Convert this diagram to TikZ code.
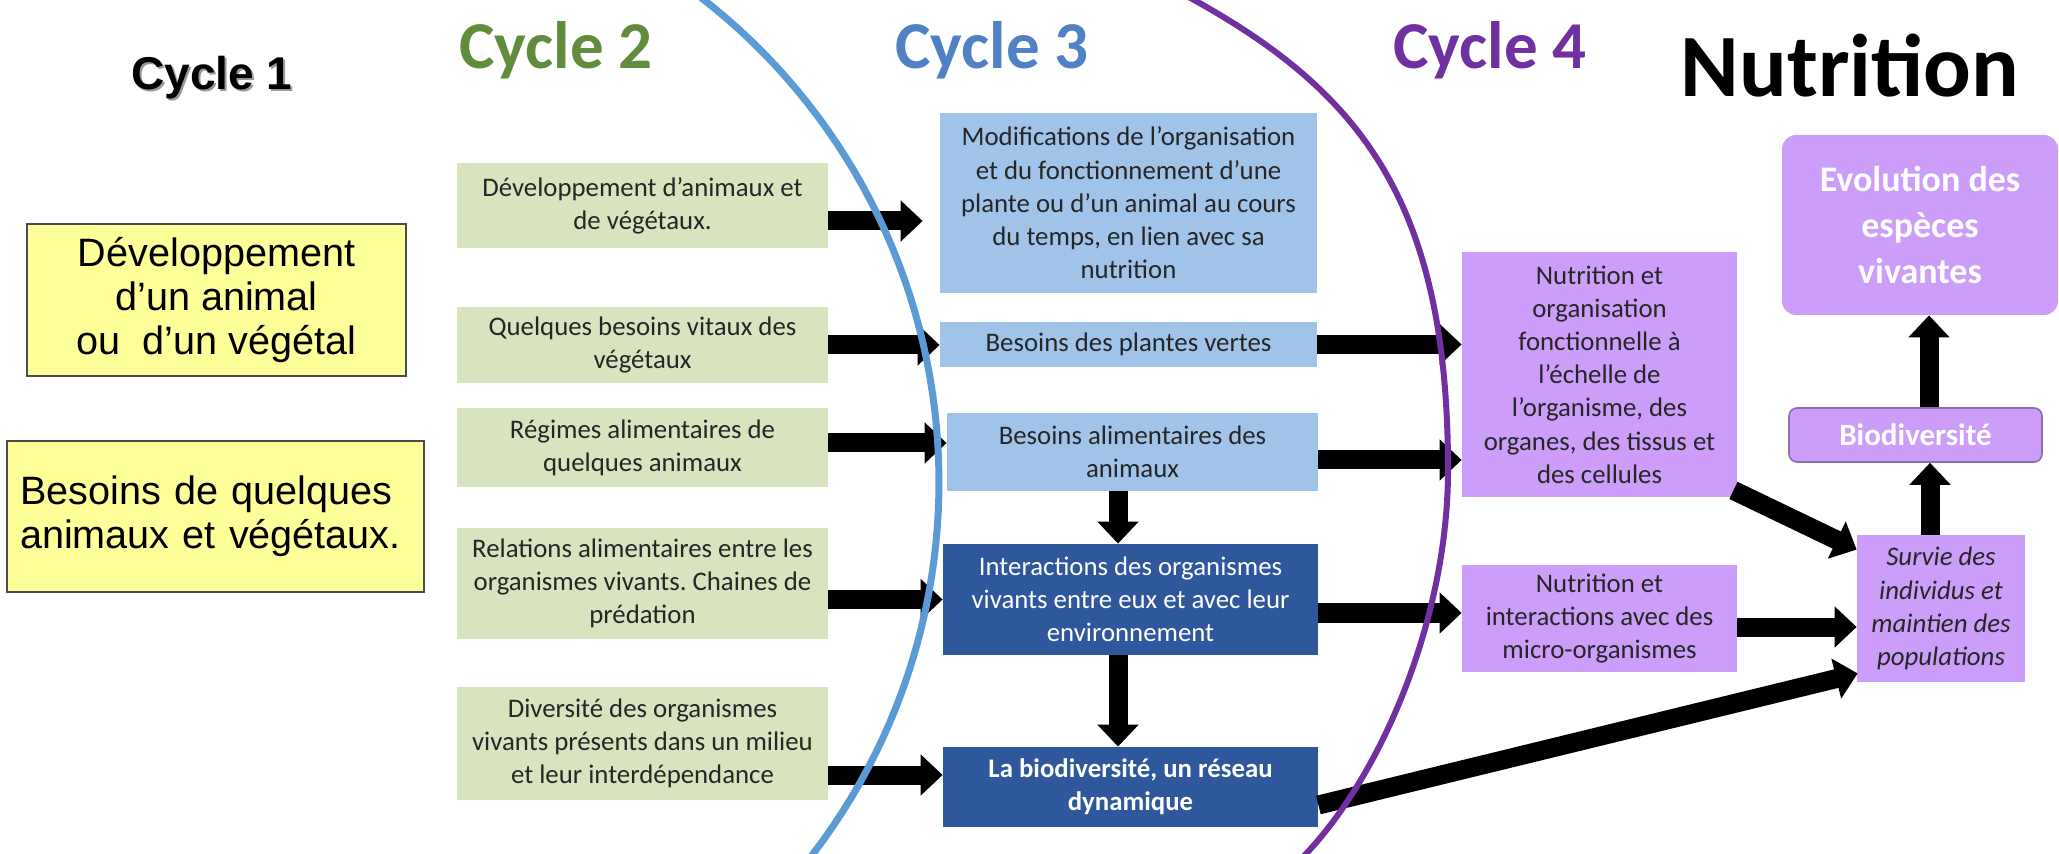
\documentclass[tikz,border=0pt]{standalone}
\usepackage{fontspec}
\setmainfont{Carlito}
\newfontfamily\arialfont{Liberation Sans}
\usetikzlibrary{arrows.meta,calc}
\frenchspacing
\definecolor{vertclair}{RGB}{215,228,190}
\definecolor{bleuclair}{RGB}{160,196,232}
\definecolor{bleufonce}{RGB}{46,88,155}
\definecolor{rose}{RGB}{205,157,250}
\definecolor{jauneclair}{RGB}{255,255,153}
\definecolor{cvert}{RGB}{96,140,60}
\definecolor{cbleu}{RGB}{79,129,196}
\definecolor{cviolet}{RGB}{112,48,160}
\definecolor{arcbleu}{RGB}{91,155,213}
\definecolor{violetbord}{RGB}{140,110,175}

\begin{document}
\begin{tikzpicture}[x=0.5pt,y=-0.5pt,
  boite/.style={inner sep=0pt, align=center, text=black!85, font=\fontsize{13.4}{16.6}\selectfont},
  vertbox/.style={boite, fill=vertclair, minimum width=185.5pt},
  bleubox/.style={boite, fill=bleuclair},
  foncebox/.style={boite, fill=bleufonce, text=white},
  rosebox/.style={boite, fill=rose},
  jaune/.style={draw=black!70, line width=0.8pt, fill=jauneclair, inner sep=0pt, align=center, font=\arialfont\fontsize{19.8}{22}\selectfont},
  titre/.style={anchor=base, font=\bfseries\fontsize{33.5}{40}\selectfont},
  fleche/.style={line width=9.5pt, -{Triangle[width=20pt,length=11pt]}},
  courbe/.style={line width=3.5pt}]
\useasboundingbox[fill=white] (0,0) rectangle (2059,854);

\node[titre, text=black!40, font=\arialfont\bfseries\fontsize{23}{28}\selectfont] (c1ombre) at (214,92) {Cycle 1};
\node[titre, font=\arialfont\bfseries\fontsize{23}{28}\selectfont] (c1) at (212,90) {Cycle 1};
\node[titre, text=cvert] (c2) at (556,69) {Cycle 2};
\node[titre, text=cbleu] (c3) at (992,69) {Cycle 3};
\node[titre, text=cviolet] (c4) at (1490,69) {Cycle 4};
\node[titre, font=\bfseries\fontsize{44.5}{50}\selectfont] (nut) at (1850,97) {Nutrition};

\node[jaune, minimum width=189.5pt, minimum height=76pt] (y1) at (216.5,300) {Développement\\d’un animal\\ou~~d’un végétal};
\node[jaune, minimum height=75.5pt, text width=195.5pt, inner xsep=6.5pt, align=left] (y2) at (215.5,516.5) {Besoins de quelques\\animaux et végétaux.};

\node[vertbox, minimum height=42.5pt] (g1) at (642.5,205.5) {Développement d’animaux et\\de végétaux.};
\node[vertbox, minimum height=38pt] (g2) at (642.5,345) {Quelques besoins vitaux des\\végétaux};
\node[vertbox, minimum height=39.5pt] (g3) at (642.5,447.5) {Régimes alimentaires de\\quelques animaux};
\node[vertbox, minimum height=55.5pt] (g4) at (642.5,583.5) {Relations alimentaires entre les\\organismes vivants. Chaines de\\prédation};
\node[vertbox, minimum height=56.5pt] (g5) at (642.5,743.5) {Diversité des organismes\\vivants présents dans un milieu\\et leur interdépendance};

\node[bleubox, minimum width=188.5pt, minimum height=90pt] (b1) at (1128.5,203) {Modifications de l’organisation\\et du fonctionnement d’une\\plante ou d’un animal au cours\\du temps, en lien avec sa\\nutrition};
\node[bleubox, minimum width=188.5pt, minimum height=22.5pt] (b2) at (1128.5,344.5) {Besoins des plantes vertes};
\node[bleubox, minimum width=185.5pt, minimum height=39pt] (b3) at (1132.5,452) {Besoins alimentaires des\\animaux};
\node[foncebox, minimum width=187.5pt, minimum height=55.5pt] (b4) at (1130.5,599.5) {Interactions des organismes\\vivants entre eux et avec leur\\environnement};
\node[foncebox, minimum width=187.5pt, minimum height=40pt, font=\bfseries\fontsize{13.4}{16.6}\selectfont] (b5) at (1130.5,787) {La biodiversité, un réseau\\dynamique};

\node[rosebox, minimum width=137.5pt, minimum height=122.5pt] (p1) at (1599.5,374.5) {Nutrition et\\organisation\\fonctionnelle à\\l’échelle de\\l’organisme, des\\organes, des tissus et\\des cellules};
\node[rosebox, minimum width=137.5pt, minimum height=53.5pt] (p2) at (1599.5,618.5) {Nutrition et\\interactions avec des\\micro-organismes};
\node[rosebox, minimum width=84pt, minimum height=73.5pt, font=\itshape\fontsize{13.4}{16.6}\selectfont] (surv) at (1941,608.5) {Survie des\\individus et\\maintien des\\populations};
\node[rosebox, draw=violetbord, line width=0.8pt, rounded corners=4pt, text=white, minimum width=126.5pt, minimum height=27pt, font=\bfseries\fontsize{15.5}{18}\selectfont] (bio) at (1915.5,435) {Biodiversité};
\node[rosebox, rounded corners=7pt, text=white, minimum width=138pt, minimum height=90pt, font=\bfseries\fontsize{18}{23}\selectfont] (evo) at (1920,225) {Evolution des\\espèces\\vivantes};

\draw[fleche] ($(g1.east)+(0,15.5)$) -- ($(g1.east -| b1.west)+(-17,15.5)$);
\draw[fleche] (g2.east) -- (g2.east -| b2.west);
\draw[fleche] ($(g3.east)+(0,-4.5)$) -- ($(g3.east -| b3.west)+(0,-4.5)$);
\draw[fleche] ($(g4.east)+(0,16)$) -- ($(g4.east -| b4.west)+(0,16)$);
\draw[fleche] ($(g5.east)+(0,31.5)$) -- ($(g5.east -| b5.west)+(0,31.5)$);
\draw[fleche] ($(b3.south)+(-14.5,0)$) -- ($(b3.south |- b4.north)+(-14.5,0)$);
\draw[fleche] ($(b4.south)+(-12.5,0)$) -- ($(b4.south |- b5.north)+(-12.5,0)$);
\draw[fleche] (b2.east) -- (b2.east -| p1.west);
\draw[fleche] ($(b3.east)+(0,8)$) -- ($(b3.east -| p1.west)+(0,8)$);
\draw[fleche] ($(b4.east)+(0,13.5)$) -- ($(b4.east -| p2.west)+(0,13.5)$);
\draw[fleche] ($(b5.east)+(0,18)$) -- ($(surv.south west)+(1,-9)$);
\draw[fleche] ($(p1.south east)+(-4,-7)$) -- ($(surv.north west)+(0,15)$);
\draw[fleche] ($(p2.east)+(0,8.5)$) -- ($(p2.east -| surv.west)+(0,8.5)$);
\draw[fleche] ($(surv.north)+(-11,0)$) -- ($(surv.north |- bio.south)+(-11,0)$);
\draw[fleche] ($(bio.north)+(13.5,0)$) -- ($(bio.north |- evo.south)+(13.5,0)$);

\draw[courbe, arcbleu] plot[domain=-54:39, samples=60, variable=\t] ({327+612*cos(\t)},{482+612*sin(\t)});
\draw[courbe, cviolet, line width=3pt] (1185,-5) .. controls (1360,90) and (1448,200) .. (1448,470) .. controls (1448,620) and (1380,780) .. (1300,860);
\end{tikzpicture}
\end{document}
